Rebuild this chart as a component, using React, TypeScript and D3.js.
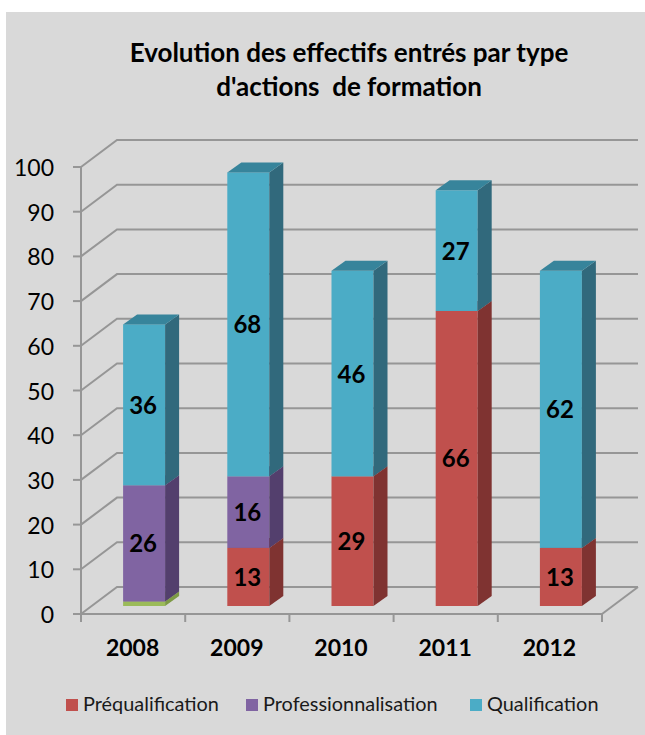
import React from "react";
import * as d3 from "d3";

const years = ["2008", "2009", "2010", "2011", "2012"];
const autre = [1, 0, 0, 0, 0];
const prequalification = [0, 13, 29, 66, 13];
const professionnalisation = [26, 16, 0, 0, 0];
const qualification = [36, 68, 46, 27, 62];
const yTicks = [0, 10, 20, 30, 40, 50, 60, 70, 80, 90, 100];
const legendLabels = ["Préqualification", "Professionnalisation", "Qualification"];
const titleLines = ["Evolution des effectifs entrés par type", "d'actions  de formation"];

const seriesKeys = ["autre", "pre", "pro", "qual"];
const palette: Record<string, string[]> = {
  autre: ["#9bbb59", "#7d9a45", "#8aa84e"],
  pre: ["#c0504d", "#7f3331", "#a04341"],
  pro: ["#8064a2", "#533f6d", "#6b5389"],
  qual: ["#4bacc6", "#31697c", "#37849b"],
};

const FONT = "Lato, 'Open Sans', sans-serif";
const GRID = "#969696";

export default function App() {
  const rows = years.map((year, i) => ({
    year,
    autre: autre[i],
    pre: prequalification[i],
    pro: professionnalisation[i],
    qual: qualification[i],
  }));
  const stacked = d3.stack<any>().keys(seriesKeys)(rows);

  const yAxis = d3.scaleLinear().domain([0, 100]).range([614, 167]);
  const xAxis = d3.scaleBand().domain(years).range([81, 602]);
  const wallDx = 36;
  const wallDy = -27;
  const barLift = 8;
  const barW = 42;
  const barOffset = 11;
  const depthX = 14;
  const depthY = -10;

  const line = d3.line<[number, number]>();
  const poly = (pts: [number, number][]) => line(pts) + "Z";
  const x0 = xAxis.range()[0];
  const x1 = xAxis.range()[1];
  const ticksX = [...years.map((y) => xAxis(y) as number), x1];

  return (
    <svg
      width={645}
      height={735}
      style={{ position: "absolute", left: 0, top: 0, background: "#ffffff" }}
      fontFamily={FONT}
    >
      <rect x={6} y={12} width={639} height={723} fill="#d9d9d9" />

      {titleLines.map((t, i) => (
        <text
          key={t}
          x={349}
          y={62 + i * 34}
          textAnchor="middle"
          fontSize={26}
          fontWeight={700}
          fill="#000"
          xmlSpace="preserve"
        >
          {t}
        </text>
      ))}

      {/* gridlines: side wall + back wall */}
      {yTicks.map((t) => {
        const y = yAxis(t);
        return (
          <path
            key={t}
            d={line([
              [x0, y],
              [x0 + wallDx, y + wallDy],
              [x1 + wallDx, y + wallDy],
            ]) as string}
            fill="none"
            stroke={GRID}
            strokeWidth={2}
          />
        );
      })}
      <path
        d={line([
          [x1, yAxis(0)],
          [x1 + wallDx, yAxis(0) + wallDy],
        ]) as string}
        fill="none"
        stroke={GRID}
        strokeWidth={2}
      />

      {/* axes */}
      <line x1={x0} x2={x0} y1={yAxis(100)} y2={yAxis(0) + 8} stroke={GRID} strokeWidth={2} />
      <line x1={x0 - 8} x2={x1} y1={yAxis(0)} y2={yAxis(0)} stroke={GRID} strokeWidth={2} />
      {yTicks.map((t) => (
        <line key={t} x1={x0 - 8} x2={x0} y1={yAxis(t)} y2={yAxis(t)} stroke={GRID} strokeWidth={2} />
      ))}
      {ticksX.map((x) => (
        <line key={x} x1={x} x2={x} y1={yAxis(0)} y2={yAxis(0) + 8} stroke={GRID} strokeWidth={2} />
      ))}

      {yTicks.map((t) => (
        <text key={t} x={54} y={yAxis(t) + 9} textAnchor="end" fontSize={23} fill="#000">
          {t}
        </text>
      ))}
      {years.map((y) => (
        <text
          key={y}
          x={(xAxis(y) as number) + xAxis.bandwidth() / 2 - 0.5}
          y={656}
          textAnchor="middle"
          fontSize={23}
          fontWeight={700}
          fill="#000"
        >
          {y}
        </text>
      ))}

      {/* bars */}
      {years.map((year, i) => {
        const left = (xAxis(year) as number) + (xAxis.bandwidth() - barW) / 2 + barOffset;
        const right = left + barW;
        return (
          <g key={year}>
            {stacked.map((s) => {
              const [a, b] = s[i];
              if (b - a <= 0) return null;
              const [front, side, top] = palette[s.key];
              const yA = yAxis(a) - barLift;
              const yB = yAxis(b) - barLift;
              return (
                <g key={s.key}>
                  <rect x={left} y={yB} width={barW} height={yA - yB} fill={front} />
                  <path
                    d={poly([
                      [right, yA],
                      [right + depthX, yA + depthY],
                      [right + depthX, yB + depthY],
                      [right, yB],
                    ])}
                    fill={side}
                  />
                  <path
                    d={poly([
                      [left, yB],
                      [left + depthX, yB + depthY],
                      [right + depthX, yB + depthY],
                      [right, yB],
                    ])}
                    fill={top}
                  />
                </g>
              );
            })}
          </g>
        );
      })}

      {/* value labels */}
      {years.map((year, i) => {
        const left = (xAxis(year) as number) + (xAxis.bandwidth() - barW) / 2 + barOffset;
        return stacked.map((s) => {
          const [a, b] = s[i];
          const v = b - a;
          if (v <= 1) return null;
          const yc = (yAxis(a) + yAxis(b)) / 2 - barLift;
          return (
            <text
              key={year + s.key}
              x={left + barW / 2 - 1}
              y={yc + 9}
              textAnchor="middle"
              fontSize={24}
              fontWeight={700}
              fill="#000"
            >
              {v}
            </text>
          );
        });
      })}

      {/* legend */}
      {legendLabels.map((label, i) => {
        const xs = [66, 246, 470];
        const key = ["pre", "pro", "qual"][i];
        return (
          <g key={label}>
            <rect x={xs[i]} y={699} width={12} height={12} fill={palette[key][0]} />
            <text x={xs[i] + 17} y={711} fontSize={19.9} fill="#1a1a1a">
              {label}
            </text>
          </g>
        );
      })}
    </svg>
  );
}
